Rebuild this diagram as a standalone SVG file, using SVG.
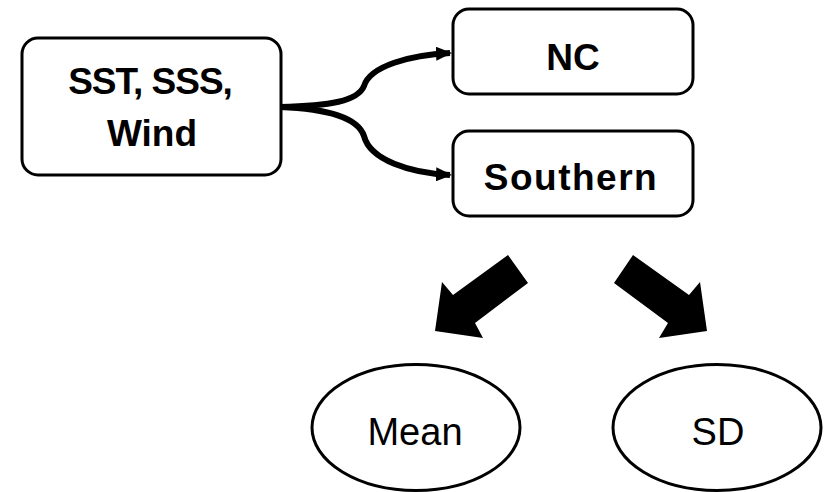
<svg xmlns="http://www.w3.org/2000/svg" width="831" height="492" viewBox="0 0 831 492">
  <defs>
    <style>
      .box { fill: #ffffff; stroke: #000000; stroke-width: 3; }
      .oval { fill: #ffffff; stroke: #000000; stroke-width: 3; }
      .link { fill: none; stroke: #000000; stroke-width: 6; }
      .bold { font-family: "Liberation Sans", Arial, sans-serif; font-weight: bold; font-size: 37px; fill: #000000; text-anchor: middle; }
      .plain { font-family: "Liberation Sans", Arial, sans-serif; font-size: 38px; fill: #000000; text-anchor: middle; }
      .block { fill: #000000; }
    </style>
    <marker id="tip" viewBox="0 0 16 14" refX="14" refY="7" markerWidth="16" markerHeight="14" orient="auto" markerUnits="userSpaceOnUse">
      <path d="M0,0 L16,7 L0,14 z" fill="#000000"/>
    </marker>
  </defs>
  <rect width="831" height="492" fill="#ffffff"/>

  <!-- connectors -->
  <g id="connectors">
    <path class="link" marker-end="url(#tip)" d="M280,107 C330,106 358,101 364,86 C370,66 410,55 450,53"/>
    <path class="link" marker-end="url(#tip)" d="M280,107 C330,109 358,118 364,136 C370,160 410,173 450,175"/>
    <polygon class="block" points="508,255 528,283 475,323 483,338 435,331 442,282 453,295"/>
    <polygon class="block" points="633,255 614,283 668,323 659,338 707,331 700,282 689,295"/>
  </g>

  <g id="inputs">
    <rect class="box" x="22" y="38" width="259" height="137" rx="16"/>
    <text class="bold" x="150" y="94" letter-spacing="-1">SST, SSS,</text>
    <text class="bold" x="152" y="146">Wind</text>
  </g>

  <g id="nc">
    <rect class="box" x="453" y="9" width="240" height="85" rx="16"/>
    <text class="bold" x="573" y="70" font-size="42">NC</text>
  </g>

  <g id="southern">
    <rect class="box" x="453" y="131" width="240" height="85" rx="16"/>
    <text class="bold" x="571" y="190" letter-spacing="1.5">Southern</text>
  </g>

  <g id="mean">
    <ellipse class="oval" cx="416" cy="427.5" rx="104" ry="63"/>
    <text class="plain" x="415" y="445">Mean</text>
  </g>

  <g id="sd">
    <ellipse class="oval" cx="717" cy="427.5" rx="104" ry="63"/>
    <text class="plain" x="718" y="445">SD</text>
  </g>
</svg>
